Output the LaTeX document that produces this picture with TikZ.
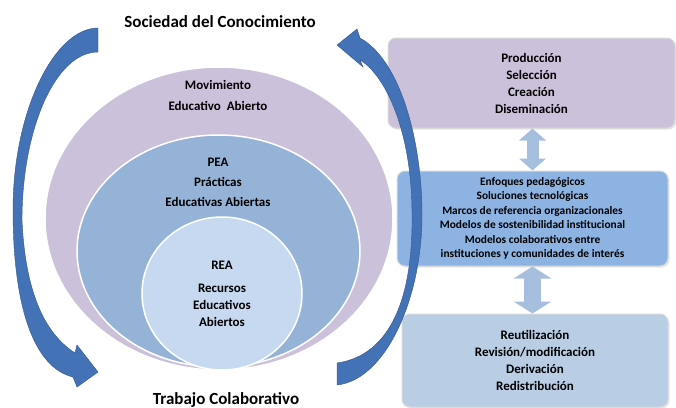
\documentclass[tikz,border=0pt]{standalone}
\usepackage{fontspec}
\setmainfont{Carlito}
\usetikzlibrary{positioning,arrows.meta,shapes.geometric,shadows}
\definecolor{moradopr}{RGB}{204,193,218}
\definecolor{azulpr}{RGB}{149,179,215}
\definecolor{celestepr}{RGB}{198,217,240}
\definecolor{cajamedia}{RGB}{141,179,226}
\definecolor{cajabaja}{RGB}{185,205,229}
\definecolor{flechapr}{RGB}{68,114,183}
\definecolor{dobleflecha}{RGB}{167,191,222}

\begin{document}
\begin{tikzpicture}[x=1pt, y=-1pt,
    elipse/.style={ellipse, draw=white, line width=1.5pt, inner sep=0pt},
    texto/.style={align=center, font=\bfseries\fontsize{13}{21}\selectfont},
    titulo/.style={anchor=base, font=\bfseries\fontsize{17}{20}\selectfont},
    caja/.style={draw=gray!30, line width=1pt, rounded corners=8pt, align=center,
        inner sep=0pt, drop shadow={opacity=0.2, shadow xshift=1.5pt, shadow yshift=-1.5pt},
        font=\bfseries\fontsize{13}{17}\selectfont},
    doble/.style={draw=dobleflecha, line width=#1,
        {Triangle[width=2.2*#1, length=12pt]}-{Triangle[width=2.2*#1, length=12pt]}},
    curva/.style={fill=flechapr, draw=flechapr!75!black, line width=0.4pt}]
    \useasboundingbox (0,0) rectangle (676,407);

    % Elipses
    \node[elipse, fill=moradopr, minimum width=348pt, minimum height=303pt] (mea) at (219,218.5) {};
    \node[elipse, fill=azulpr, minimum width=283pt, minimum height=232pt] (pea) at (218.5,251) {};
    \node[elipse, fill=celestepr, minimum width=160pt, minimum height=153pt] (rea) at (222,293.5) {};

    \node[texto] (tmea) at (218,95.5) {Movimiento\\Educativo~~Abierto};
    \node[texto, font=\bfseries\fontsize{13}{20}\selectfont] (tpea) at (218,182.5) {PEA\\Prácticas\\Educativas Abiertas};
    \node[texto, font=\bfseries\fontsize{13}{17}\selectfont] (trea) at (222,293.5) {REA\\[6pt]Recursos\\Educativos\\Abiertos};

    % Títulos
    \node[titulo] (soc) at (220,27) {Sociedad del Conocimiento};
    \node[titulo] (trab) at (226,404) {Trabajo Colaborativo};

    % Cajas
    \node[caja, fill=moradopr, minimum width=287pt, minimum height=90pt] (prod) at (531.5,83) {Producción\\Selección\\Creación\\Diseminación};
    \node[caja, fill=cajamedia, minimum width=271pt, minimum height=95pt,
        font=\bfseries\fontsize{11.4}{14.5}\selectfont, below=42pt of prod, xshift=1pt] (enf)
        {Enfoques pedagógicos\\Soluciones tecnológicas\\Marcos de referencia organizacionales\\Modelos de sostenibilidad institucional\\Modelos colaborativos entre\\instituciones y comunidades de interés};
    \node[caja, fill=cajabaja, minimum width=266pt, minimum height=93pt, below=47pt of enf, xshift=2.5pt] (reut)
        {Reutilización\\Revisión/modificación\\Derivación\\Redistribución};

    % Flechas dobles
    \draw[doble=12pt] (prod.south -| enf.north) -- (enf.north);
    \draw[doble=17pt] (enf.south) -- (enf.south |- reut.north);

    % Flechas curvas
    \filldraw[curva] (98,28) .. controls (55,28) and (13,110) .. (13,210)
        .. controls (13,310) and (35,368) .. (73,377)
        -- (77,387) -- (98,372) -- (77,345) -- (75,353)
        .. controls (55,340) and (26,310) .. (22,220)
        .. controls (22,130) and (55,52) .. (98,52) -- cycle;
    \filldraw[curva] (337,363) .. controls (392,355) and (413,295) .. (412,215)
        .. controls (412,130) and (385,75) .. (360,60)
        -- (363,67) -- (337,45) -- (357,29) -- (360,38)
        .. controls (400,60) and (422,140) .. (422,215)
        .. controls (422,300) and (385,380) .. (337,385) -- cycle;
\end{tikzpicture}
\end{document}
